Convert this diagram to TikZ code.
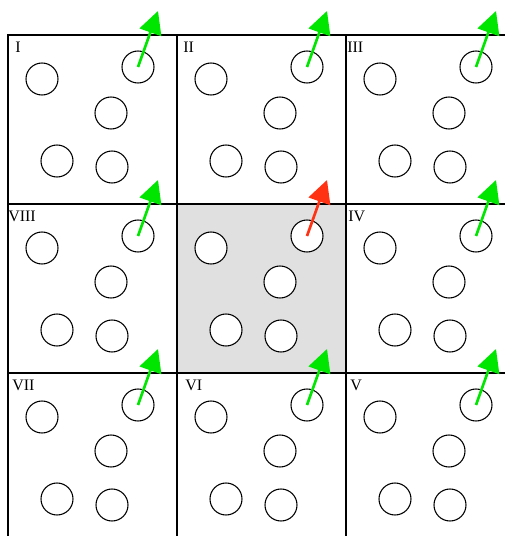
\documentclass[tikz,border=0pt]{standalone}
\usepackage{fontspec}
\setmainfont{Liberation Serif}
\usetikzlibrary{arrows.meta}
\definecolor{movecol}{RGB}{0,230,0}
\definecolor{homecol}{RGB}{255,50,20}
\definecolor{cellgray}{RGB}{224,224,224}

\begin{document}
\begin{tikzpicture}[x=0.75pt, y=-0.75pt, font=\fontsize{12}{13}\selectfont,
    particle/.style={circle, draw, fill=white, line width=0.8pt,
                     minimum size=24pt, inner sep=0pt},
    move/.style={line width=2pt, -{Triangle[length=17pt, width=17pt]}},
    celllabel/.style={anchor=north west, inner sep=0pt}]

\useasboundingbox (0,0) rectangle (505,536);

% Central (home) cell
\fill[cellgray] (177,204) rectangle (346,373);

% Grid lines
\draw[line width=1pt] (8,536) -- (8,35) -- (505,35);
\foreach \gx in {177,346}
    \draw[line width=1pt] (\gx,35) -- (\gx,536);
\foreach \gy in {204,373}
    \draw[line width=1pt] (8,\gy) -- (505,\gy);

% ================================================================
% Particles in each cell (same layout everywhere)
% ================================================================
\foreach \cx/\cy/\acol in {0/0/movecol, 1/0/movecol, 2/0/movecol,
                           0/1/movecol, 1/1/homecol, 2/1/movecol,
                           0/2/movecol, 1/2/movecol, 2/2/movecol} {
    \pgfmathsetmacro{\ox}{8+169*\cx}
    \pgfmathsetmacro{\oy}{35+169*\cy}
    \foreach \k/\px/\py in {1/34/44, 2/130/32, 3/103/78, 4/49/126, 5/104/132}
        \node[particle] (p\cx\cy\k) at (\ox+\px,\oy+\py) {};
    \coordinate (tip\cx\cy) at (\ox+150,\oy-24);
    \draw[move, \acol] (p\cx\cy2.center) -- (tip\cx\cy);
}

% ================================================================
% Cell labels
% ================================================================
\foreach \cx/\cy/\lab/\dx in {0/0/I/7, 1/0/II/6, 2/0/III/1,
                              0/1/VIII/0, 2/1/IV/2,
                              0/2/VII/4, 1/2/VI/8, 2/2/V/4}
    \node[celllabel] (lab\cx\cy) at (8+169*\cx+\dx, 35+169*\cy+7) {\lab};

\end{tikzpicture}
\end{document}
